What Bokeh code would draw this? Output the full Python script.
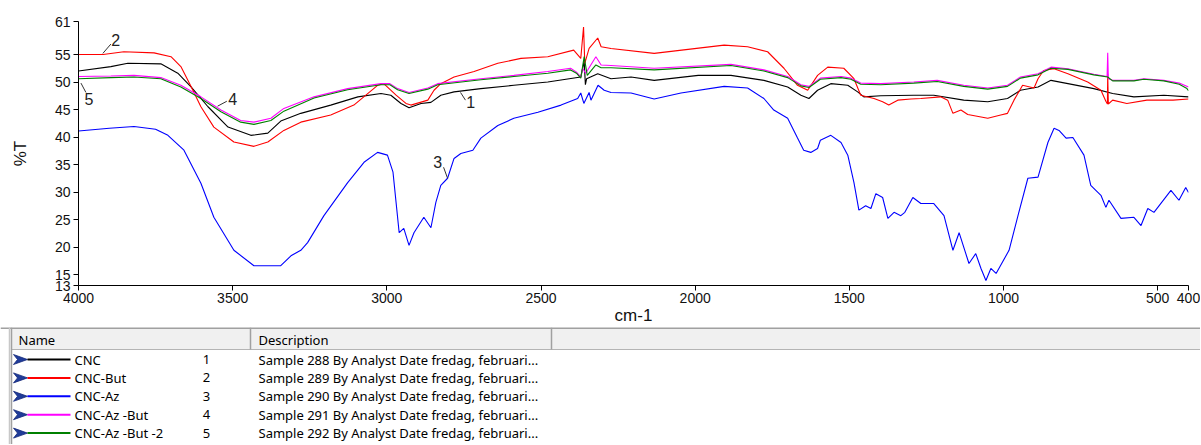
from bokeh.plotting import figure
from bokeh.models import Range1d, FixedTicker
from bokeh.layouts import column
from bokeh.embed import file_html
from bokeh.resources import INLINE
from bokeh.core.properties import value

# ---------------- data ----------------
x_ticks = [4000, 3500, 3000, 2500, 2000, 1500, 1000, 500, 400]
y_ticks = [13, 15, 20, 25, 30, 35, 40, 45, 50, 55, 61]

cnc_wn = [4000, 3895, 3840, 3733, 3678, 3635, 3580, 3515, 3441, 3386, 3344, 3279, 3182, 3094,
          3019, 2987, 2954, 2928, 2889, 2857, 2825, 2782, 2695, 2588, 2478, 2371, 2360, 2356,
          2352, 2316, 2273, 2208, 2133, 1990, 1884, 1777, 1700, 1657, 1631, 1603, 1560, 1505,
          1473, 1453, 1398, 1291, 1226, 1129, 1051, 987, 945, 888, 846, 791, 707, 646, 577,
          480, 400]
cnc_t = [52.0, 52.8, 53.4, 53.3, 51.6, 49.1, 45.5, 41.8, 40.3, 40.7, 42.9, 44.3, 45.8, 47.3,
         47.9, 47.6, 46.1, 45.3, 46.1, 46.3, 47.6, 48.2, 48.8, 49.4, 50.0, 50.9, 53.8, 49.5,
         50.6, 51.5, 50.6, 50.9, 50.3, 51.2, 51.2, 50.3, 49.1, 47.6, 47.0, 48.5, 49.7, 49.4,
         48.2, 47.3, 47.5, 47.6, 47.6, 46.7, 46.4, 47.0, 48.5, 49.1, 50.3, 49.7, 48.8, 47.9,
         47.3, 47.6, 47.3]

but_wn = [4000, 3920, 3853, 3755, 3700, 3668, 3635, 3603, 3561, 3496, 3431, 3386, 3334, 3279,
          3182, 3107, 3030, 3010, 2970, 2938, 2922, 2867, 2847, 2825, 2782, 2717, 2640, 2565,
          2478, 2394, 2371, 2362, 2358, 2344, 2316, 2305, 2273, 2133, 1906, 1830, 1765, 1712,
          1668, 1635, 1603, 1570, 1518, 1485, 1463, 1420, 1392, 1372, 1343, 1300, 1268, 1204,
          1181, 1164, 1138, 1116, 1051, 1009, 987, 966, 938, 901, 888, 870, 836, 791, 727, 684,
          668, 663, 662, 660, 646, 600, 535, 450, 400]
but_t = [55.0, 55.0, 55.5, 55.3, 54.6, 52.8, 49.2, 45.5, 41.8, 39.1, 38.3, 39.1, 41.2, 42.7,
         44.0, 45.8, 49.4, 49.7, 47.6, 46.1, 45.8, 46.7, 48.5, 49.7, 50.9, 51.9, 53.4, 54.3,
         54.6, 55.8, 54.3, 60.0, 53.4, 56.1, 58.0, 56.4, 56.1, 55.2, 56.7, 56.4, 55.5, 52.5,
         49.4, 48.5, 51.2, 52.7, 52.5, 50.6, 47.6, 47.0, 46.4, 45.8, 46.7, 46.9, 47.0, 47.3,
         46.7, 44.3, 44.9, 44.1, 43.4, 44.0, 44.3, 46.7, 49.4, 48.9, 50.6, 52.1, 52.4, 51.5,
         50.0, 48.5, 46.5, 46.0, 51.5, 46.0, 46.7, 46.1, 46.7, 46.7, 46.9]

az_wn = [4000, 3900, 3820, 3750, 3710, 3658, 3603, 3561, 3496, 3431, 3344, 3311, 3279, 3257,
         3204, 3127, 3074, 3030, 2998, 2980, 2970, 2960, 2945, 2928, 2912, 2880, 2857, 2841,
         2825, 2803, 2782, 2760, 2721, 2695, 2640, 2588, 2510, 2435, 2381, 2371, 2361, 2344,
         2338, 2315, 2295, 2273, 2208, 2133, 2046, 1906, 1830, 1777, 1745, 1700, 1668, 1648,
         1625, 1603, 1594, 1560, 1527, 1505, 1485, 1469, 1447, 1430, 1414, 1392, 1375, 1355,
         1333, 1320, 1294, 1268, 1226, 1193, 1164, 1144, 1112, 1090, 1073, 1057, 1041, 1024,
         982, 953, 921, 888, 856, 836, 820, 797, 775, 739, 717, 684, 668, 658, 619, 577, 554,
         532, 512, 457, 431, 409, 400]
az_t = [41.1, 41.6, 41.9, 41.4, 40.3, 37.6, 31.6, 25.4, 19.4, 16.6, 16.6, 18.4, 19.4, 20.8,
        25.7, 31.7, 35.4, 37.2, 36.7, 33.6, 28.1, 22.6, 23.4, 20.3, 22.6, 25.4, 23.5, 28.1,
        31.2, 32.5, 36.1, 37.0, 37.6, 39.8, 42.1, 43.4, 44.5, 45.8, 47.0, 48.0, 46.1, 48.1,
        46.7, 49.4, 48.5, 48.1, 48.0, 46.9, 48.0, 49.2, 48.9, 47.0, 44.9, 43.4, 39.8, 37.6,
        37.2, 37.9, 39.4, 40.3, 39.0, 36.7, 31.7, 26.7, 27.5, 27.0, 29.7, 29.0, 25.2, 26.3,
        25.7, 26.3, 29.0, 27.9, 27.9, 25.7, 19.4, 22.6, 17.0, 18.8, 16.1, 13.9, 16.1, 15.2,
        19.4, 25.7, 32.5, 32.7, 39.0, 41.6, 41.2, 39.8, 39.9, 36.7, 31.2, 29.4, 27.2, 28.5,
        25.2, 25.4, 23.9, 27.0, 26.3, 30.3, 28.5, 30.8, 29.9]

azbut_wn = [4000, 3895, 3820, 3733, 3668, 3603, 3538, 3474, 3431, 3376, 3334, 3236, 3127, 3019,
            2990, 2965, 2928, 2867, 2835, 2695, 2588, 2478, 2404, 2385, 2371, 2365, 2355, 2322,
            2305, 2273, 2133, 1884, 1777, 1700, 1657, 1631, 1594, 1527, 1495, 1463, 1398, 1291,
            1215, 1129, 1051, 987, 945, 888, 846, 791, 707, 664, 662, 660, 646, 577, 545, 480,
            430, 400]
azbut_t = [51.0, 51.1, 51.2, 50.8, 49.4, 47.3, 44.9, 43.0, 42.7, 43.4, 45.2, 47.3, 48.8, 49.7,
           49.7, 48.8, 48.1, 48.9, 49.7, 50.6, 51.2, 51.9, 52.5, 51.8, 50.9, 52.5, 51.6, 54.6,
           53.1, 53.0, 52.5, 53.2, 52.2, 51.0, 49.5, 49.2, 50.7, 51.0, 50.7, 49.8, 49.7, 50.0,
           50.3, 49.4, 48.9, 49.4, 50.9, 51.5, 52.7, 52.4, 51.4, 51.0, 55.3, 50.6, 50.3, 50.3,
           50.6, 50.3, 49.8, 49.1]

azbut2_wn = [4000, 3895, 3820, 3733, 3668, 3603, 3538, 3474, 3431, 3376, 3334, 3236, 3127, 3019,
             2990, 2965, 2928, 2867, 2835, 2695, 2588, 2478, 2404, 2385, 2371, 2360, 2350, 2322,
             2305, 2273, 2133, 1884, 1777, 1700, 1657, 1631, 1594, 1527, 1495, 1463, 1398, 1291,
             1215, 1129, 1051, 987, 945, 888, 846, 791, 707, 662, 646, 577, 545, 480, 430, 405,
             400]
azbut2_t = [50.6, 50.8, 50.9, 50.6, 49.1, 47.0, 44.6, 42.7, 42.3, 43.0, 44.7, 47.1, 48.6, 49.5,
            49.5, 48.6, 47.9, 48.7, 49.5, 50.4, 51.0, 51.6, 52.2, 51.6, 50.7, 54.6, 51.2, 53.1,
            52.6, 52.6, 52.2, 53.0, 52.0, 50.8, 49.3, 49.0, 50.5, 50.8, 50.5, 49.6, 49.5, 49.8,
            50.1, 49.2, 48.7, 49.2, 50.7, 51.3, 52.5, 52.3, 51.3, 50.9, 50.2, 50.2, 50.5, 50.2,
            49.6, 48.8, 48.4]

series_names = ["CNC", "CNC-But", "CNC-Az", "CNC-Az  -But", "CNC-Az  -But -2"]
series_numbers = ["1", "2", "3", "4", "5"]
series_colors = ["#000000", "#ff0000", "#0000ff", "#ff00ff", "#008000"]
series_desc = ["Sample 288 By Analyst Date fredag, februari...",
               "Sample 289 By Analyst Date fredag, februari...",
               "Sample 290 By Analyst Date fredag, februari...",
               "Sample 291 By Analyst Date fredag, februari...",
               "Sample 292 By Analyst Date fredag, februari..."]

# curve callout labels (data coords) and leader lines
lab_text = ["1", "2", "3", "4", "5"]
lab_wn = [2728, 3879, 2835, 3500, 3966]
lab_t = [46.3, 57.6, 35.4, 47.0, 47.0]
lead_wn0 = [2761, 3921, 2816, 3549, 3992]
lead_t0 = [48.1, 55.2, 34.5, 45.6, 49.8]
lead_wn1 = [2745, 3895, 2803, 3519, 3976]
lead_t1 = [46.7, 56.9, 32.5, 46.5, 48.1]

FONT = "Liberation Sans"
TFONT = "Noto Sans"
TSIZE = "13px"
W = 1200

# ---------------- spectrum plot ----------------
p = figure(width=W, height=327, x_range=Range1d(4000, 400), y_range=Range1d(13, 61),
           output_backend="svg", toolbar_location=None,
           min_border_left=78, min_border_right=12, min_border_top=21, min_border_bottom=0)
p.frame_align = False
p.outline_line_color = None
p.grid.visible = False
p.background_fill_color = "white"

p.xaxis.ticker = FixedTicker(ticks=x_ticks)
p.yaxis.ticker = FixedTicker(ticks=y_ticks)
for ax in (p.xaxis[0], p.yaxis[0]):
    ax.axis_line_color = "black"
    ax.major_tick_line_color = "black"
    ax.minor_tick_line_color = None
    ax.major_tick_out = 5
    ax.major_tick_in = 0
    ax.major_label_text_font = FONT
    ax.major_label_text_font_size = "14px"
    ax.major_label_text_color = "#111111"
    ax.axis_label_text_font = FONT
    ax.axis_label_text_font_size = "17px"
    ax.axis_label_text_font_style = "normal"
    ax.axis_label_text_color = "#111111"
p.xaxis.axis_label = "cm-1"
p.yaxis.axis_label = "%T"
p.xaxis.major_label_standoff = 2
p.xaxis.axis_label_standoff = 0
p.yaxis.major_label_standoff = 3
p.yaxis.axis_label_standoff = 22

all_wn = [cnc_wn, but_wn, az_wn, azbut_wn, azbut2_wn]
all_t = [cnc_t, but_t, az_t, azbut_t, azbut2_t]
for wn, t, c in zip(all_wn, all_t, series_colors):
    p.line(wn, t, line_color=c, line_width=1.1)

p.segment(x0=lead_wn0, y0=lead_t0, x1=lead_wn1, y1=lead_t1, line_color="#333333", line_width=1)
p.text(x=lab_wn, y=lab_t, text=lab_text, text_font=value(FONT), text_font_size="16px",
       text_align="center", text_baseline="middle", text_color="#222222")

# ---------------- legend table ----------------
TOP, BOT = 327, 444
t = figure(width=W, height=BOT - TOP, x_range=Range1d(0, W), y_range=Range1d(BOT, TOP),
           x_axis_type=None, y_axis_type=None, min_border=0,
           output_backend="svg", toolbar_location=None)
t.frame_align = False
t.outline_line_color = None
t.background_fill_color = "white"

hdr_top, hdr_bot = TOP + 1.5, 349
t.quad(left=[11], right=[W], top=[hdr_top], bottom=[hdr_bot], fill_color="#f0f0f0", line_color=None)
t.segment(x0=[0], y0=[TOP + 0.5], x1=[W], y1=[TOP + 0.5], line_color="#a0a0a0", line_width=2)
t.segment(x0=[11], y0=[hdr_bot], x1=[W], y1=[hdr_bot], line_color="#b4b4b4", line_width=1)
t.segment(x0=[9, 11, 250, 551], y0=[TOP, TOP, TOP, TOP], x1=[9, 11, 250, 551],
          y1=[BOT, BOT, hdr_bot, hdr_bot], line_color=["#c8c8c8", "#a0a0a0", "#a0a0a0", "#a0a0a0"],
          line_width=1.5)
t.text(x=[18, 258], y=[(hdr_top + hdr_bot) / 2 + 1] * 2, text=["Name", "Description"],
       text_font=value(TFONT), text_font_size=TSIZE, text_baseline="middle", text_color="#000000")

row_y = [359 + 18.4 * i for i in range(len(series_names))]
t.patches(xs=[[13, 27, 13, 17] for _ in row_y], ys=[[y - 5, y, y + 5, y] for y in row_y],
          fill_color="#1f3c9a", line_color="#14287a", line_width=0.8)
t.segment(x0=[27] * len(row_y), y0=row_y, x1=[70] * len(row_y), y1=row_y,
          line_color=series_colors, line_width=2)
t.text(x=[74] * len(row_y), y=row_y, text=series_names, text_font=value(TFONT),
       text_font_size=TSIZE, text_baseline="middle", text_color="#000000")
t.text(x=[206] * len(row_y), y=row_y, text=series_numbers, text_font=value(TFONT),
       text_font_size=TSIZE, text_baseline="middle", text_align="center", text_color="#000000")
t.text(x=[258] * len(row_y), y=row_y, text=series_desc, text_font=value(TFONT),
       text_font_size=TSIZE, text_baseline="middle", text_color="#000000")

layout = column(p, t, spacing=0)
open("out.html", "w").write(file_html(layout, INLINE))
